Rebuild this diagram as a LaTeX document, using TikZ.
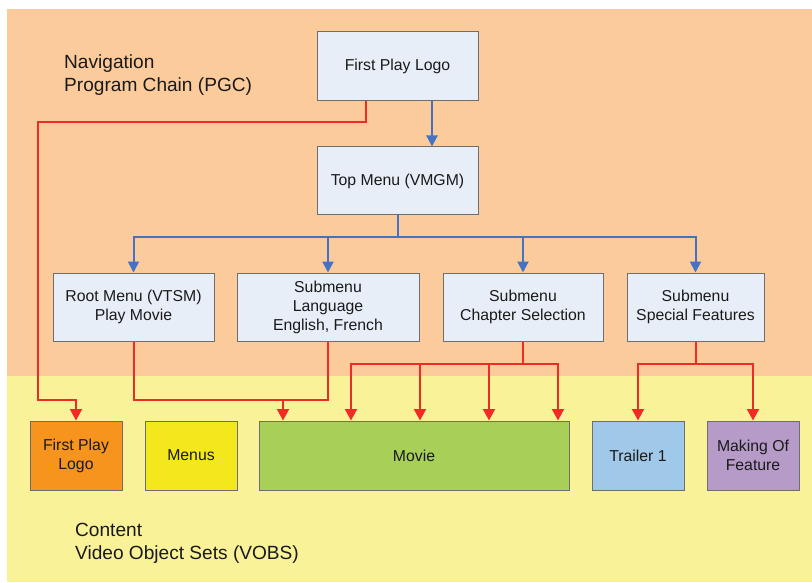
\documentclass[tikz,border=0pt]{standalone}
\usepackage{fontspec}
\setmainfont{Liberation Sans}
\usetikzlibrary{arrows.meta}
\definecolor{bgorange}{HTML}{FBCB9B}
\definecolor{bgyellow}{HTML}{F9F298}
\definecolor{boxfill}{HTML}{E8EEF8}
\definecolor{boxline}{HTML}{6E6E6E}
\definecolor{cfpl}{HTML}{F7941E}
\definecolor{cmenus}{HTML}{F3E81C}
\definecolor{cmovie}{HTML}{A8CF58}
\definecolor{ctrailer}{HTML}{A0C8E8}
\definecolor{cmaking}{HTML}{B69BC9}
\definecolor{cred}{HTML}{EE2B24}
\definecolor{cblue}{HTML}{4472C4}
\definecolor{ctext}{HTML}{1A1A1A}
\begin{document}
\begin{tikzpicture}[x=1pt,y=-1pt,
  navbox/.style={draw=boxline, line width=1pt, fill=boxfill, minimum height=68pt, inner sep=0pt,
    align=center, text=ctext, font=\fontsize{15.8}{19}\selectfont},
  contbox/.style={draw=boxline, line width=1pt, minimum width=92pt, minimum height=69pt, inner sep=0pt,
    align=center, text=ctext, font=\fontsize{15.8}{19}\selectfont},
  biglabel/.style={anchor=north west, inner sep=0pt, align=left, text=ctext, font=\fontsize{19.1}{22.5}\selectfont},
  blueline/.style={draw=cblue, line width=2pt},
  bluearr/.style={blueline, -{Triangle[width=11pt,length=11pt]}},
  redline/.style={draw=cred, line width=2pt},
  redarr/.style={redline, -{Triangle[width=12pt,length=11.5pt]}}
]
\useasboundingbox (0,0) rectangle (812,583);
\fill[bgorange] (7,9) rectangle (812,376);
\fill[bgyellow] (7,376) rectangle (812,582);

\node[biglabel] (navlabel) at (64,54.5) {Navigation\\Program Chain (PGC)};
\node[biglabel] (contlabel) at (75,523) {Content\\Video Object Sets (VOBS)};

\node[navbox, minimum width=161pt, minimum height=69pt] (fpl) at (397.5,66.5) {First Play Logo};
\node[navbox, minimum width=161pt] (top) at (397.5,181) {Top Menu (VMGM)};
\node[navbox, minimum width=161pt] (root) at (133.5,307) {Root Menu (VTSM)\\Play Movie};
\node[navbox, minimum width=182pt] (lang) at (328,307) {Submenu\\Language\\English, French};
\node[navbox, minimum width=160pt] (chap) at (523,307) {Submenu\\Chapter Selection};
\node[navbox, minimum width=137pt] (spec) at (695.5,307) {Submenu\\Special Features};

\node[contbox, fill=cfpl] (bfpl) at (76,455.5) {First Play\\Logo};
\node[contbox, fill=cmenus] (menus) at (191,455.5) {Menus};
\node[contbox, fill=cmovie, minimum width=310pt] (movie) at (414,455.5) {Movie};
\node[contbox, fill=ctrailer] (trailer) at (638,455.5) {Trailer 1};
\node[contbox, fill=cmaking] (making) at (753,455.5) {Making Of\\Feature};

% blue navigation connectors
\draw[bluearr] ([xshift=34.5pt]fpl.south) -- ([xshift=34.5pt]top.north);
\draw[blueline] (top.south) -- ++(0,22) coordinate (tb);
\draw[bluearr] (tb) -| (root.north);
\draw[bluearr] (tb) -| (lang.north);
\draw[bluearr] (tb) -| (chap.north);
\draw[bluearr] (tb) -| (spec.north);

% red content connectors
\coordinate (r1) at (38,122);
\coordinate (r2) at (38,400);
\draw[redarr] ([xshift=-31.5pt]fpl.south) |- (r1) -- (r2) -| (bfpl.north);

\coordinate (mj) at (283,400);
\draw[redline] (root.south) |- (mj);
\draw[redarr] (lang.south) |- (mj) -- (mj |- movie.north);

\draw[redline] (chap.south) -- ++(0,22) coordinate (cb);
\foreach \dx in {-63,6,75,144}
  \draw[redarr] (cb) -| ([xshift=\dx pt]movie.north);

\draw[redline] (spec.south) -- ++(0,22) coordinate (sb);
\draw[redarr] (sb) -| (trailer.north);
\draw[redarr] (sb) -| (making.north);
\end{tikzpicture}
\end{document}
